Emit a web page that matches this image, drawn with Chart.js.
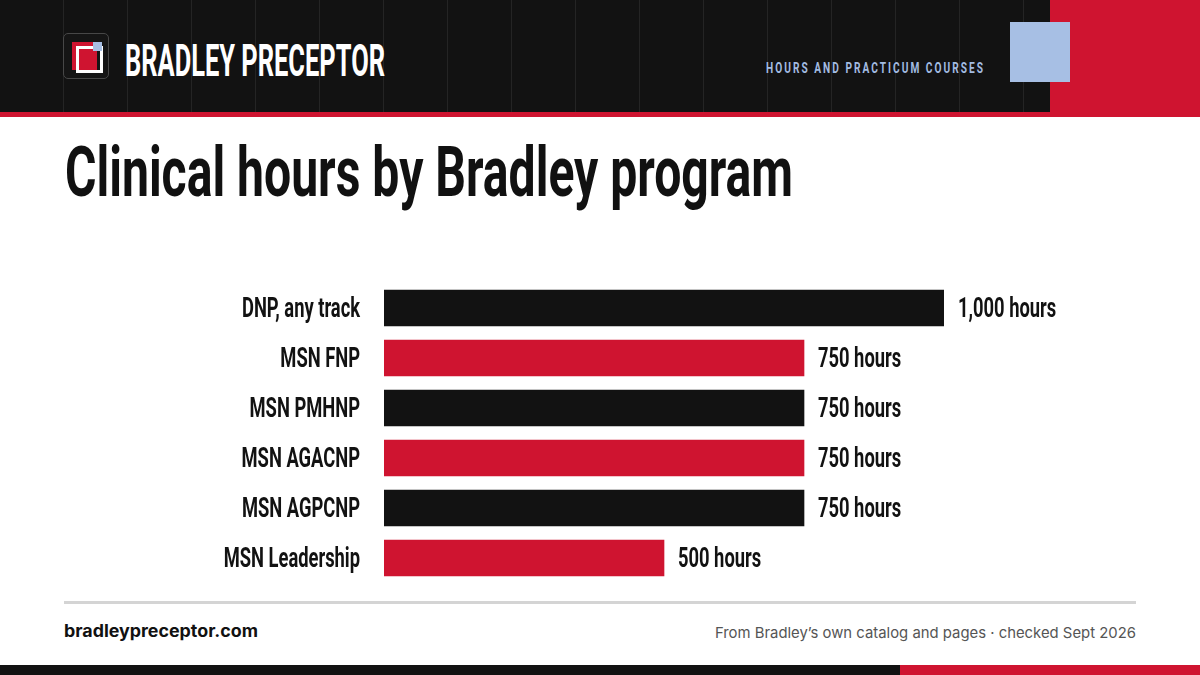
<!DOCTYPE html>
<html>
<head>
<meta charset="utf-8">
<script src="https://cdn.jsdelivr.net/npm/chart.js@4.4.1/dist/chart.umd.min.js"></script>
<style>
  html, body { margin: 0; padding: 0; }
  body { width: 1200px; height: 675px; position: relative; overflow: hidden; background: #fff; font-family: Roboto, sans-serif; }
  .abs { position: absolute; }
  .header {
    left: 0; top: 0; width: 1200px; height: 112px; background-color: #121212;
    background-image: repeating-linear-gradient(90deg, transparent 0 63px, #242424 63px 64px);
  }
  .fit { white-space: nowrap; line-height: 1; transform-origin: left top; }
  .brand { left: 125px; top: 39px; font-size: 44px; font-weight: 700; color: #fff; }
  .kicker { left: 766px; top: 61px; font-size: 15px; font-weight: 700; color: #a3bce2; letter-spacing: 3px; }
  .title { left: 65px; top: 137px; font-size: 70px; font-weight: 700; color: #111; }
  .site { left: 64px; top: 623px; font-family: Inter, sans-serif; font-size: 17px; font-weight: 700; color: #111; }
  .source { right: 64px; top: 625px; font-family: Inter, sans-serif; font-size: 15px; color: #555; transform-origin: right top; }
</style>
</head>
<body>
<div class="abs header"></div>
<div class="abs" style="left:1050px;top:0;width:150px;height:112px;background:#cf1430"></div>
<div class="abs" style="left:1010px;top:22px;width:60px;height:60px;background:#a7bfe4"></div>
<div class="abs" style="left:0;top:112px;width:1200px;height:5px;background:#cf1430"></div>

<!-- logo -->
<div class="abs" style="left:63px;top:33px;width:44px;height:44px;border:1.5px solid #474747;border-radius:5px;background:#151515"></div>
<div class="abs" style="left:72px;top:42px;width:25px;height:28px;background:#cf1430"></div>
<div class="abs" style="left:76px;top:46px;width:21px;height:21px;border:3px solid #fff"></div>
<div class="abs" style="left:93px;top:42px;width:9px;height:9px;background:#a7bfe4"></div>

<div class="abs fit brand" data-w="260">BRADLEY PRECEPTOR</div>
<div class="abs fit kicker" data-w="219">HOURS AND PRACTICUM COURSES</div>
<div class="abs fit title" data-w="728">Clinical hours by Bradley program</div>

<canvas id="hoursChart" class="abs" width="1200" height="300" style="left:0;top:283px"></canvas>

<div class="abs" style="left:64px;top:601px;width:1072px;height:3px;background:#d4d4d4"></div>
<div class="abs fit site" data-w="194">bradleypreceptor.com</div>
<div class="abs fit source" data-w="421">From Bradley’s own catalog and pages · checked Sept 2026</div>
<div class="abs" style="left:0;top:665px;width:900px;height:10px;background:#121212"></div>
<div class="abs" style="left:900px;top:665px;width:300px;height:10px;background:#cf1430"></div>

<script>
const programs = ['DNP, any track', 'MSN FNP', 'MSN PMHNP', 'MSN AGACNP', 'MSN AGPCNP', 'MSN Leadership'];
const hours = [1000, 750, 750, 750, 750, 500];
const unit = 'hours';

const INK = '#121212';
const RED = '#cf1430';

// squeeze the header text to the condensed widths
document.querySelectorAll('.fit').forEach(el => {
  const w = el.getBoundingClientRect().width;
  el.style.transform = `scaleX(${el.dataset.w / w})`;
});

const rowLabels = {
  id: 'rowLabels',
  afterDatasetsDraw(chart) {
    const { ctx, scales: { x, y } } = chart;
    const sx = 0.655;
    ctx.save();
    ctx.font = '700 28px Roboto';
    ctx.fillStyle = INK;
    ctx.textBaseline = 'alphabetic';
    programs.forEach((name, i) => {
      const cy = y.getPixelForValue(i) + 9;
      ctx.save();
      ctx.translate(x.getPixelForValue(0) - 24, cy);
      ctx.scale(sx, 1);
      ctx.textAlign = 'right';
      ctx.fillText(name, 0, 0);
      ctx.restore();

      ctx.save();
      ctx.translate(x.getPixelForValue(hours[i]) + 14, cy);
      ctx.scale(sx, 1);
      ctx.textAlign = 'left';
      ctx.fillText(`${hours[i].toLocaleString('en-US')} ${unit}`, 0, 0);
      ctx.restore();
    });
    ctx.restore();
  }
};

new Chart(document.getElementById('hoursChart').getContext('2d'), {
  type: 'bar',
  data: {
    labels: programs,
    datasets: [{
      data: hours,
      backgroundColor: hours.map((_, i) => i % 2 ? RED : INK),
      barThickness: 36,
      borderWidth: 0
    }]
  },
  options: {
    indexAxis: 'y',
    responsive: false,
    animation: false,
    devicePixelRatio: 1,
    layout: { padding: { left: 384, right: 256, top: 0, bottom: 0 } },
    plugins: { legend: { display: false }, tooltip: { enabled: false } },
    scales: {
      x: { display: false, min: 0, max: 1000 },
      y: { display: false }
    }
  },
  plugins: [rowLabels]
});
</script>
</body>
</html>
